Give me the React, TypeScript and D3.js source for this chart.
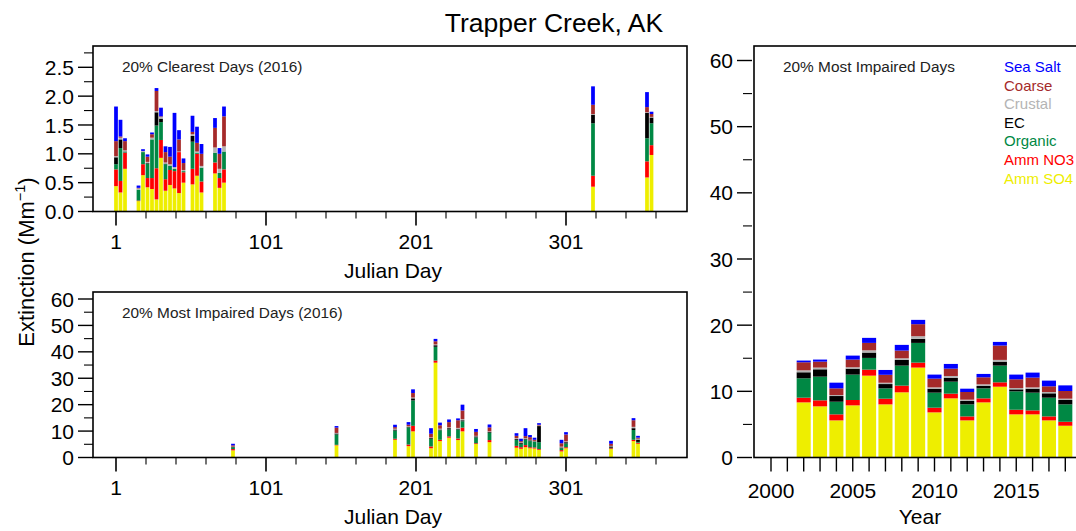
import React from 'react';
import * as d3 from 'd3';

const W = 1076;
const H = 531;
const FONT = "'Liberation Sans', Arial, Helvetica, sans-serif";

// stack order, bottom to top
const keys = ['so4', 'no3', 'org', 'ec', 'crustal', 'coarse', 'seasalt'];
const colors = ['#eeee00', '#ff0000', '#008844', '#000000', '#b4b4b4', '#a52a2a', '#0000ff'];
const legendLabels = ['Sea Salt', 'Coarse', 'Crustal', 'EC', 'Organic', 'Amm NO3', 'Amm SO4'];
const legendColors = ['#0000ff', '#a52a2a', '#b4b4b4', '#000000', '#008844', '#ff0000', '#eeee00'];

// 20% clearest days, 2016
const clearDays = [1, 4, 7, 16, 19, 22, 25, 28, 31, 34, 37, 40, 43, 46, 52, 55, 58, 67, 70, 73, 319, 355, 358];
const clearSO4 = [0.44, 0.33, 0.74, 0.18, 0.63, 0.42, 0.39, 0.21, 0.93, 0.36, 0.46, 0.40, 0.32, 0.50, 0.47, 0.62, 0.33, 0.66, 0.41, 0.50, 0.43, 0.59, 0.98];
const clearNO3 = [0.29, 0.20, 0.28, 0.01, 0.19, 0.16, 0.19, 0.54, 0.31, 0.20, 0.26, 0.30, 0.71, 0.18, 0.27, 0.38, 0.19, 0.19, 0.17, 0.23, 0.19, 0.28, 0.17];
const clearOrg = [0.09, 0.57, 0.01, 0.19, 0.21, 0.25, 0.67, 0.74, 0.31, 0.26, 0.07, 0.04, 0.00, 0.02, 0.47, 0.02, 0.24, 0.17, 0.09, 0.31, 0.91, 0.40, 0.38];
const clearEC = [0.12, 0.15, 0.01, 0.00, 0.00, 0.01, 0.00, 0.23, 0.06, 0.01, 0.00, 0.00, 0.00, 0.00, 0.10, 0.00, 0.00, 0.00, 0.00, 0.00, 0.15, 0.44, 0.10];
const clearCrustal = [0.02, 0.03, 0.02, 0.02, 0.02, 0.02, 0.03, 0.02, 0.03, 0.02, 0.03, 0.03, 0.01, 0.02, 0.03, 0.02, 0.03, 0.09, 0.07, 0.09, 0.01, 0.01, 0.01];
const clearCoarse = [0.26, 0.02, 0.16, 0.01, 0.00, 0.09, 0.06, 0.35, 0.01, 0.18, 0.13, 0.00, 0.21, 0.12, 0.04, 0.15, 0.21, 0.34, 0.26, 0.52, 0.16, 0.09, 0.05];
const clearSeaSalt = [0.60, 0.29, 0.05, 0.04, 0.03, 0.04, 0.03, 0.05, 0.15, 0.10, 0.17, 0.94, 0.16, 0.08, 0.28, 0.28, 0.17, 0.17, 0.10, 0.17, 0.32, 0.26, 0.04];

// 20% most impaired days, 2016
const impDays = [79, 148, 187, 196, 199, 211, 214, 217, 223, 229, 232, 241, 250, 268, 271, 274, 277, 280, 283, 298, 301, 331, 346, 349];
const impSO4 = [2.7, 4.6, 6.7, 4.3, 9.9, 3.5, 35.9, 6.2, 7.5, 6.6, 9.9, 5.1, 5.8, 3.7, 3.3, 3.9, 3.5, 3.4, 2.9, 2.3, 3.5, 3.2, 6.2, 5.2];
const impNO3 = [0.5, 0.2, 0.4, 0.6, 2.1, 0.7, 0.8, 0.5, 0.5, 0.6, 1.4, 0.3, 0.8, 0.7, 0.6, 0.8, 0.4, 0.4, 0.3, 0.5, 0.4, 0.3, 0.5, 0.4];
const impOrg = [0.7, 3.9, 3.1, 6.5, 9.6, 2.9, 5.2, 3.6, 2.6, 3.4, 2.4, 2.2, 2.8, 2.3, 1.3, 2.1, 2.3, 2.1, 2.6, 0.7, 1.4, 0.2, 3.7, 0.3];
const impEC = [0.1, 0.4, 0.4, 0.2, 0.8, 0.3, 0.6, 0.3, 0.5, 0.3, 0.4, 0.4, 0.3, 0.3, 0.3, 0.3, 0.3, 0.2, 6.1, 0.3, 0.5, 0.5, 0.7, 0.9];
const impCrustal = [0.1, 0.2, 0.3, 0.2, 0.3, 0.2, 0.3, 0.3, 0.3, 0.3, 0.4, 0.2, 0.2, 0.3, 0.2, 0.2, 0.2, 0.2, 0.2, 0.3, 0.3, 0.2, 0.5, 0.3];
const impCoarse = [0.5, 2.0, 0.6, 0.6, 1.7, 1.4, 1.2, 1.3, 2.0, 2.9, 3.3, 1.5, 1.5, 0.9, 0.5, 0.8, 1.0, 0.4, 0.3, 1.3, 2.6, 0.8, 2.5, 0.4];
const impSeaSalt = [0.6, 0.6, 0.9, 1.0, 1.4, 2.1, 0.9, 1.0, 1.0, 0.7, 2.2, 1.1, 1.1, 1.0, 0.9, 3.0, 0.8, 0.8, 0.6, 1.3, 0.9, 1.1, 0.8, 0.7];

// annual means of 20% most impaired days
const years = [2002, 2003, 2004, 2005, 2006, 2007, 2008, 2009, 2010, 2011, 2012, 2013, 2014, 2015, 2016, 2017, 2018];
const yrSO4 = [8.33, 7.73, 5.61, 7.88, 12.37, 8.03, 9.85, 13.59, 6.82, 8.94, 5.61, 8.33, 10.70, 6.52, 6.52, 5.61, 4.80];
const yrNO3 = [0.71, 0.91, 0.91, 0.81, 0.91, 0.86, 1.01, 0.75, 0.71, 0.71, 0.60, 0.61, 0.66, 0.70, 0.60, 0.60, 0.60];
const yrOrg = [2.93, 3.58, 1.91, 3.84, 1.77, 1.56, 3.03, 2.98, 2.27, 1.81, 1.82, 1.51, 2.53, 2.78, 2.68, 2.83, 2.63];
const yrEC = [0.91, 1.11, 0.86, 0.90, 0.81, 0.65, 0.86, 0.61, 0.60, 0.56, 0.51, 0.36, 0.60, 0.30, 0.60, 0.66, 0.66];
const yrCrustal = [0.30, 0.26, 0.15, 0.21, 0.34, 0.20, 0.25, 0.40, 0.20, 0.30, 0.20, 0.25, 0.26, 0.20, 0.20, 0.20, 0.20];
const yrCoarse = [1.21, 0.90, 1.01, 1.16, 1.12, 1.20, 1.16, 1.82, 1.32, 1.11, 1.16, 1.06, 2.17, 1.32, 1.47, 0.86, 1.16];
const yrSeaSalt = [0.26, 0.31, 0.86, 0.60, 0.76, 0.73, 0.86, 0.65, 0.61, 0.71, 0.50, 0.51, 0.55, 0.71, 0.76, 0.86, 0.85];

const clearTicks = [0, 0.5, 1, 1.5, 2, 2.5];
const clearMinor = [0.25, 0.75, 1.25, 1.75, 2.25, 2.75];
const impTicks = [0, 10, 20, 30, 40, 50, 60];
const impMinor = [5, 15, 25, 35, 45, 55];
const dayLabels = [1, 101, 201, 301];
const dayMinor = [21, 41, 61, 81, 121, 141, 161, 181, 221, 241, 261, 281, 321, 341, 361];
const yearTicks = d3.range(2000, 2019);
const yearLabels = [2000, 2005, 2010, 2015];

function makeRows(xs: number[], series: number[][]) {
  return xs.map((x, i) => {
    const r: any = {x};
    keys.forEach((k, j) => { r[k] = series[j][i]; });
    return r;
  });
}

const stack = d3.stack<any>().keys(keys);

// layout
const L = 93, R = 687;
const topY0 = 46, topY1 = 211.5;
const botY0 = 292, botY1 = 457.5;
const RL = 754, RR = 1090, RY0 = 46, RY1 = 457.5;

const xDay = d3.scaleLinear().domain([1, 301]).range([116, 566]);
const yClear = d3.scaleLinear().domain([0, 2.5]).range([topY1, 67.3]);
const yImp = d3.scaleLinear().domain([0, 60]).range([botY1, 299]);
const xYear = d3.scaleLinear().domain([2000, 2015]).range([771, 1016.25]);
const yYear = d3.scaleLinear().domain([0, 60]).range([RY1, 60.5]);

function Bars({rows, x, y, w}: {rows: any[]; x: any; y: any; w: number}) {
  const series = stack(rows);
  return (
    <g>
      {series.map((s, si) => (
        <g key={si} fill={colors[si]}>
          {s.map((d, i) => {
            const h = y(d[0]) - y(d[1]);
            if (h <= 0) return null;
            return <rect key={i} x={x(d.data.x) - w / 2} y={y(d[1])} width={w} height={h} />;
          })}
        </g>
      ))}
    </g>
  );
}

function YAxis({y, x0, major, minor, fmt}: {y: any; x0: number; major: number[]; minor: number[]; fmt: (v: number) => string}) {
  return (
    <g>
      {major.map(v => (
        <g key={'M' + v}>
          <line x1={x0 - 15} x2={x0} y1={y(v)} y2={y(v)} stroke="#000" strokeWidth={1.4} />
          <text x={x0 - 19} y={y(v)} dy="0.36em" textAnchor="end" fontSize={21}>{fmt(v)}</text>
        </g>
      ))}
      {minor.map(v => (
        <line key={'m' + v} x1={x0 - 9} x2={x0} y1={y(v)} y2={y(v)} stroke="#000" strokeWidth={1.1} />
      ))}
    </g>
  );
}

function DayAxis({y0}: {y0: number}) {
  return (
    <g>
      {dayLabels.map(v => (
        <g key={v}>
          <line x1={xDay(v)} x2={xDay(v)} y1={y0} y2={y0 + 14} stroke="#000" strokeWidth={1.6} />
          <text x={xDay(v)} y={y0 + 37} textAnchor="middle" fontSize={21}>{v}</text>
        </g>
      ))}
      {dayMinor.map(v => (
        <line key={v} x1={xDay(v)} x2={xDay(v)} y1={y0} y2={y0 + 7} stroke="#000" strokeWidth={1.1} />
      ))}
      <text x={(L + R) / 2 + 3} y={y0 + 66} textAnchor="middle" fontSize={21}>Julian Day</text>
    </g>
  );
}

export default function App() {
  const clearRows = makeRows(clearDays, [clearSO4, clearNO3, clearOrg, clearEC, clearCrustal, clearCoarse, clearSeaSalt]);
  const impRows = makeRows(impDays, [impSO4, impNO3, impOrg, impEC, impCrustal, impCoarse, impSeaSalt]);
  const yrRows = makeRows(years, [yrSO4, yrNO3, yrOrg, yrEC, yrCrustal, yrCoarse, yrSeaSalt]);
  const dayW = xDay(3.5) - xDay(1);
  const yrW = xYear(2000.86) - xYear(2000);

  return (
    <svg width={W} height={H} viewBox={`0 0 ${W} ${H}`}
      style={{position: 'absolute', left: 0, top: 0, background: '#fff'}}
      fontFamily={FONT}>
      <rect width={W} height={H} fill="#fff" />
      <text x={554} y={32} textAnchor="middle" fontSize={26.5}>Trapper Creek, AK</text>

      {/* top left: clearest */}
      <Bars rows={clearRows} x={xDay} y={yClear} w={dayW} />
      <rect x={L} y={topY0} width={R - L} height={topY1 - topY0} fill="none" stroke="#000" strokeWidth={1.6} />
      <YAxis y={yClear} x0={L} major={clearTicks} minor={clearMinor} fmt={d3.format('.1f')} />
      <DayAxis y0={topY1} />
      <text x={122} y={72} fontSize={15.4} fill="#222">20% Clearest Days (2016)</text>

      {/* bottom left: most impaired */}
      <Bars rows={impRows} x={xDay} y={yImp} w={dayW} />
      <rect x={L} y={botY0} width={R - L} height={botY1 - botY0} fill="none" stroke="#000" strokeWidth={1.6} />
      <YAxis y={yImp} x0={L} major={impTicks} minor={impMinor} fmt={d3.format('d')} />
      <DayAxis y0={botY1} />
      <text x={122} y={318} fontSize={15.4} fill="#222">20% Most Impaired Days (2016)</text>

      <text transform="translate(34,262) rotate(-90)" textAnchor="middle" fontSize={22}>
        Extinction (Mm<tspan fontSize={14.5} dy={-9}>−1</tspan><tspan dy={9}>)</tspan>
      </text>

      {/* right: annual */}
      <Bars rows={yrRows} x={xYear} y={yYear} w={yrW} />
      <rect x={RL} y={RY0} width={RR - RL} height={RY1 - RY0} fill="none" stroke="#000" strokeWidth={1.6} />
      <YAxis y={yYear} x0={RL - 2} major={impTicks} minor={impMinor} fmt={d3.format('d')} />
      {yearTicks.map(v => (
        <line key={v} x1={xYear(v)} x2={xYear(v)} y1={RY1} y2={RY1 + 14} stroke="#000" strokeWidth={1.4} />
      ))}
      {yearLabels.map(v => (
        <text key={v} x={xYear(v)} y={498} textAnchor="middle" fontSize={21}>{v}</text>
      ))}
      <text x={920} y={524} textAnchor="middle" fontSize={21}>Year</text>
      <text x={783} y={72} fontSize={15.4} fill="#222">20% Most Impaired Days</text>
      {legendLabels.map((t, i) => (
        <text key={t} x={1004} y={72 + i * 18.6} fontSize={15} fill={legendColors[i]}>{t}</text>
      ))}
    </svg>
  );
}
